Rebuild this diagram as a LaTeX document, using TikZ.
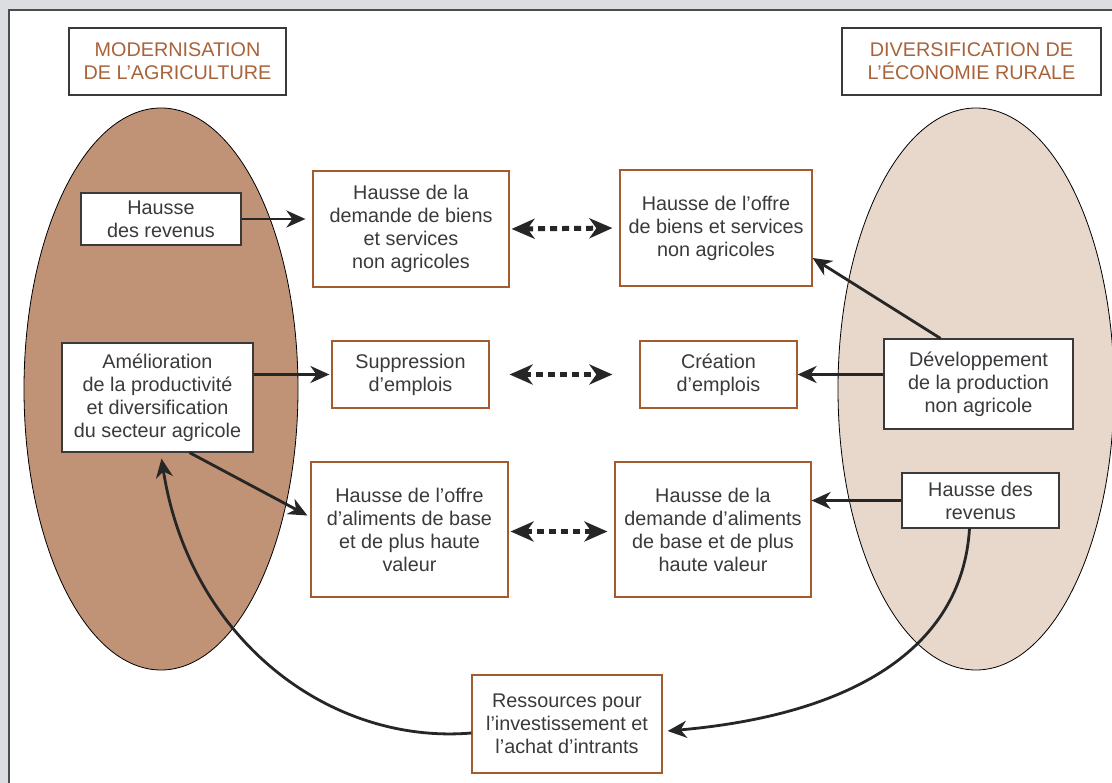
\documentclass[tikz,border=0pt]{standalone}
\usepackage{fontspec}
\setmainfont{Liberation Sans}
\usetikzlibrary{arrows.meta,positioning}
\definecolor{bgGrey}{HTML}{DCDDE0}
\definecolor{agriBrown}{HTML}{C09276}
\definecolor{ruralBeige}{HTML}{E7D8CB}
\definecolor{rustLine}{HTML}{A65B2E}
\definecolor{titleBrown}{HTML}{A9633A}
\definecolor{inkGrey}{HTML}{3A3A3A}

\begin{document}
\begin{tikzpicture}[x=1pt,y=-1pt,
    font=\fontsize{19.8}{23}\selectfont,
    box/.style={draw=inkGrey,fill=white,line width=1.2pt,align=center,inner sep=0pt,text=inkGrey},
    rbox/.style={box,draw=rustLine},
    arr/.style={-{Stealth[length=19pt,width=17pt,inset=6pt]},line width=2.8pt,black!85},
    dblarr/.style={{Stealth[length=23pt,width=20pt,inset=7pt]}-{Stealth[length=23pt,width=20pt,inset=7pt]},
      line width=5pt,dash pattern=on 7pt off 5pt,black!85}]
  \useasboundingbox (0,0) rectangle (1112,783);
  \fill[bgGrey] (0,0) rectangle (1112,783);
  \draw[fill=white,draw=black!70,line width=2.5pt] (9,10) rectangle (1130,800);

  % the two sides
  \draw[fill=agriBrown,line width=0.8pt] (161,389) ellipse [x radius=137pt,y radius=281pt];
  \draw[fill=ruralBeige,line width=0.8pt] (976,389) ellipse [x radius=138pt,y radius=281pt];
  \node[box,text=titleBrown,minimum width=217pt,minimum height=67pt] (modTitle) at (177.5,61.5) {MODERNISATION\\DE L’AGRICULTURE};
  \node[box,text=titleBrown,minimum width=259pt,minimum height=67pt] (divTitle) at (971.5,61.5) {DIVERSIFICATION DE\\L’ÉCONOMIE RURALE};

  % boxes
  \node[box,minimum width=160pt,minimum height=52pt] (revL) at (161,219) {Hausse\\des revenus};
  \node[rbox,minimum width=196pt,minimum height=116pt] (demB) at (411,229) {Hausse de la\\demande de biens\\et services\\non agricoles};
  \node[rbox,minimum width=192pt,minimum height=116pt] (offB) at (716,228) {Hausse de l’offre\\de biens et services\\non agricoles};
  \node[box,minimum width=191pt,minimum height=109pt] (amel) at (157.5,397.5) {Amélioration\\de la productivité\\et diversification\\du secteur agricole};
  \node[rbox,minimum width=157pt,minimum height=67pt] (supp) at (410.5,374.5) {Suppression\\d’emplois};
  \node[rbox,minimum width=157pt,minimum height=67pt] (crea) at (718.5,374.5) {Création\\d’emplois};
  \node[box,minimum width=189pt,minimum height=90pt] (dev) at (978.5,384) {Développement\\de la production\\non agricole};
  \node[rbox,minimum width=197pt,minimum height=135pt] (offA) at (409.5,529.5) {Hausse de l’offre\\d’aliments de base\\et de plus haute\\valeur};
  \node[rbox,minimum width=196pt,minimum height=135pt] (demA) at (713,529.5) {Hausse de la\\demande d’aliments\\de base et de plus\\haute valeur};
  \node[box,minimum width=157pt,minimum height=55pt] (revR) at (980.5,500.5) {Hausse des\\revenus};
  \node[rbox,minimum width=190pt,minimum height=98pt] (res) at (567,724) {Ressources pour\\l’investissement et\\l’achat d’intrants};

  % links
  \draw[arr,shorten >=7pt] (revL.east) -- (revL.east -| demB.west);
  \draw[arr,shorten >=2pt] (amel.east |- supp.west) -- (supp.west);
  \draw[arr] (dev.west |- crea.east) -- (crea.east);
  \draw[arr] ([xshift=-38pt]dev.north) -- ([yshift=-30pt]offB.east);
  \draw[arr] ([xshift=32pt]amel.south) -- ([yshift=14pt,xshift=-3pt]offA.west);
  \draw[arr] (revR.west) -- (revR.west -| demA.east);
  \draw[dblarr,shorten <=2pt,shorten >=7pt] (demB.east) -- (offB.west);
  \draw[dblarr,shorten <=20pt,shorten >=27pt] (supp.east) -- (crea.west);
  \draw[dblarr,shorten <=2pt,shorten >=7pt] ([yshift=-2pt]offA.east) -- ([yshift=-2pt]demA.west);
  \draw[arr] ([xshift=-11pt]revR.south) .. controls (962,650) and (850,715) .. ([xshift=5pt,yshift=-7pt]res.east);
  \draw[arr] ([yshift=-9pt]res.west) .. controls (330,745) and (190,640) .. ([xshift=4pt,yshift=-6pt]amel.south);
\end{tikzpicture}
\end{document}
